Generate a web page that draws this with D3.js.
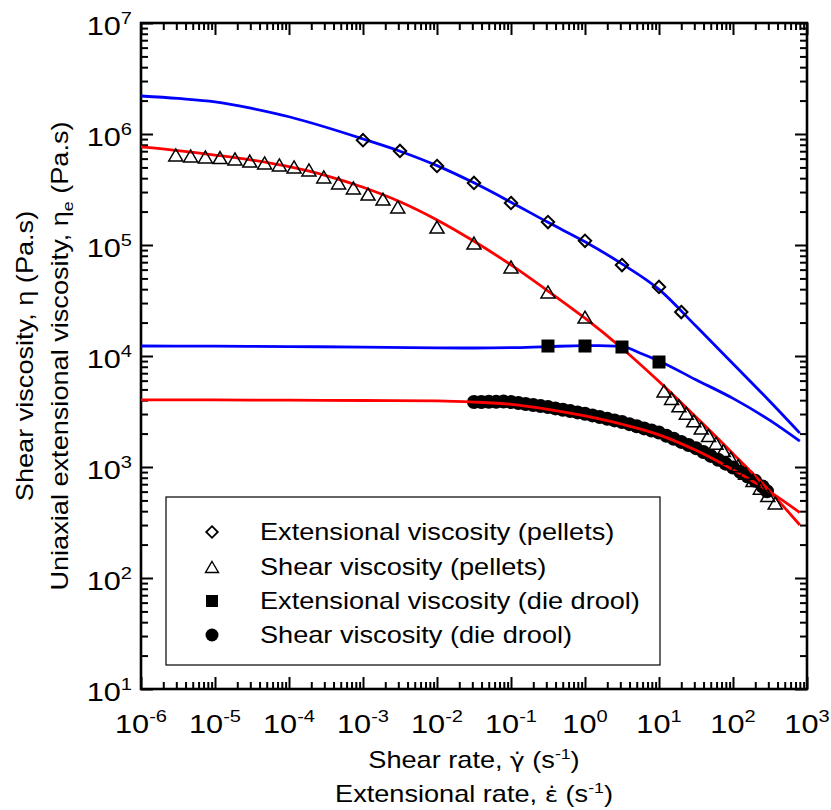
<!DOCTYPE html>
<html><head><meta charset="utf-8">
<script src="https://cdn.jsdelivr.net/npm/d3@7"></script>
<style>
body{margin:0;background:#fff}
text{font-family:"Liberation Sans",Arial,Helvetica,sans-serif;fill:#000}
</style>
</head><body>
<svg id="chart" width="831" height="810"></svg>
<script>
// ---------- data ----------
const xTickExps = [-6,-5,-4,-3,-2,-1,0,1,2,3];
const yTickExps = [1,2,3,4,5,6,7];

const legendLabels = ["Extensional viscosity (pellets)","Shear viscosity (pellets)",
                      "Extensional viscosity (die drool)","Shear viscosity (die drool)"];

// Extensional viscosity (pellets) – diamonds
const extPelletsRate = [0.001,0.00316,0.01,0.0316,0.1,0.316,1,3.16,10,20];
const extPelletsVisc = [8.8e5,7.03e5,5.15e5,3.62e5,2.39e5,1.61e5,1.09e5,6.6e4,4.19e4,2.49e4];

// Shear viscosity (pellets) – triangles
const shearPelletsRate = [2.95e-6,4.68e-6,7.41e-6,1.17e-5,1.86e-5,2.95e-5,4.68e-5,7.41e-5,1.17e-4,1.86e-4,
  2.95e-4,4.68e-4,7.41e-4,1.17e-3,1.86e-3,2.95e-3,0.01,0.0316,0.1,0.316,1,
  11.7,14.8,18.6,23.4,29.5,37.2,46.8,58.9,74.1,93.3,117,148,186,234,295,372];
const shearPelletsVisc = [6.47e5,6.34e5,6.21e5,6.14e5,5.96e5,5.71e5,5.48e5,5.26e5,5.05e5,4.74e5,
  4.10e5,3.62e5,3.27e5,2.88e5,2.59e5,2.20e5,1.45e5,1.04e5,6.34e4,3.78e4,2.24e4,
  4850,4150,3560,3050,2610,2240,1920,1640,1405,1200,1028,880,755,645,553,474];

// Extensional viscosity (die drool) – squares
const extDroolRate = [0.316,1,3.16,10];
const extDroolVisc = [12300,12300,12050,8830];

// Shear viscosity (die drool) – circles
const shearDroolRate = [0.0316,0.0398,0.0501,0.0631,0.0794,0.1,0.126,0.158,0.2,0.251,
  0.316,0.398,0.501,0.631,0.794,1,1.26,1.58,2.0,2.51,3.16,3.98,5.01,6.31,7.94,
  10,12.6,15.8,20,25.1,31.6,39.8,50.1,63.1,79.4,100,126,158,200,251,288];
const shearDroolVisc = [3846,3855,3864,3873,3882,3846,3767,3690,3614,3540,
  3467,3373,3281,3192,3105,3020,2917,2818,2723,2630,2541,2432,2328,2228,2133,
  2042,1914,1795,1683,1578,1479,1365,1259,1161,1072,989,902,822,750,668,605];

// Fitted model curves
const fitExtPelletsRate = [1e-6,3.16e-6,1e-5,3.16e-5,1e-4,3.16e-4,1e-3,3.16e-3,0.01,0.0316,0.1,0.316,1,3.16,10,31.6,100,316,800];
const fitExtPelletsVisc = [2.2e6,2.09e6,1.95e6,1.70e6,1.43e6,1.15e6,9.02e5,7.0e5,5.19e5,3.63e5,2.43e5,1.60e5,1.07e5,6.76e4,3.98e4,1.86e4,8510,3890,2020];

const fitShearPelletsRate = [1e-6,3.16e-6,1e-5,3.16e-5,1e-4,3.16e-4,1e-3,3.16e-3,0.01,0.0316,0.1,0.316,1,3.16,10,31.6,100,316,800];
const fitShearPelletsVisc = [7.64e5,7.08e5,6.46e5,5.82e5,5.07e5,4.22e5,3.31e5,2.45e5,1.68e5,1.08e5,6.61e4,3.85e4,2.19e4,1.175e4,5890,2820,1320,603,300];

const fitExtDroolRate = [1e-6,1e-5,1e-4,1e-3,0.01,0.0316,0.1,0.316,1,2,3.16,5.62,10,31.6,100,316,800];
const fitExtDroolVisc = [12300,12250,12160,12020,11860,11800,11890,12160,12390,12360,12190,10590,9020,6110,4150,2630,1710];

const fitShearDroolRate = [1e-6,1e-5,1e-4,1e-3,0.01,0.0316,0.1,0.316,1,3.16,10,31.6,100,316,800];
const fitShearDroolVisc = [4027,4018,3999,3972,3936,3846,3673,3311,2884,2427,1950,1413,944,596,389];

// ---------- layout ----------
const SX = 1.18; // horizontal text stretch
const svg = d3.select("#chart");
const L = 141, R = 807, T = 23, B = 689;
const x = d3.scaleLog().domain([1e-6, 1e3]).range([L, R]);
const y = d3.scaleLog().domain([1e1, 1e7]).range([B, T]);

function stext(parent, px, py, size, anchor, rotate) {
  const g = parent.append("g")
    .attr("transform", `translate(${px},${py})` + (rotate ? ` rotate(${rotate})` : "") + ` scale(${SX},1)`);
  return g.append("text").attr("text-anchor", anchor || "start").style("font-size", size + "px");
}

// ---------- axes (ticks inward on all four sides) ----------
const allX = x.ticks();
const allY = y.ticks();
const isMajor = v => Math.abs(Math.log10(v) - Math.round(Math.log10(v))) < 1e-6;
const majX = allX.filter(isMajor), minX = allX.filter(v => !isMajor(v));
const majY = allY.filter(isMajor), minY = allY.filter(v => !isMajor(v));

function addAxis(gen, pos, vals, size) {
  const g = svg.append("g").attr("transform", pos)
    .call(gen.tickValues(vals).tickSize(size).tickFormat(""));
  g.select(".domain").remove();
  g.selectAll(".tick line").attr("stroke", "#000").attr("stroke-width", 2);
}
addAxis(d3.axisBottom(x), `translate(0,${B})`, majX, -12);
addAxis(d3.axisBottom(x), `translate(0,${B})`, minX, -7);
addAxis(d3.axisTop(x), `translate(0,${T})`, majX, -12);
addAxis(d3.axisTop(x), `translate(0,${T})`, minX, -7);
addAxis(d3.axisLeft(y), `translate(${L},0)`, majY, -12);
addAxis(d3.axisLeft(y), `translate(${L},0)`, minY, -7);
addAxis(d3.axisRight(y), `translate(${R},0)`, majY, -12);
addAxis(d3.axisRight(y), `translate(${R},0)`, minY, -7);

svg.append("rect").attr("x", L).attr("y", T).attr("width", R - L).attr("height", B - T)
  .attr("fill", "none").attr("stroke", "#000").attr("stroke-width", 2.6);

// tick labels
xTickExps.forEach(e => {
  const t = stext(svg, x(Math.pow(10, e)), 733, 26, "middle");
  t.append("tspan").text("10");
  t.append("tspan").attr("dy", -11).style("font-size", "17px").text(String(e));
});
yTickExps.forEach(e => {
  const t = stext(svg, 132, y(Math.pow(10, e)) + 12, 26, "end");
  t.append("tspan").text("10");
  t.append("tspan").attr("dy", -11).style("font-size", "17px").text(String(e));
});

// axis titles (dotted symbols use a combining dot in a font that stacks it)
{
  const t1 = stext(svg, 474, 768, 23, "middle");
  t1.append("tspan").text("Shear rate, ");
  t1.append("tspan").style("font-family", "'DejaVu Sans'").style("font-size", "21px").text("\u03B3\u0307");
  t1.append("tspan").text(" (s");
  t1.append("tspan").attr("dy", -9).style("font-size", "15px").text("-1");
  t1.append("tspan").attr("dy", 9).text(")");
  const t2 = stext(svg, 474, 802, 23, "middle");
  t2.append("tspan").text("Extensional rate, ");
  t2.append("tspan").style("font-family", "'DejaVu Sans'").style("font-size", "21px").text("\u03B5\u0307");
  t2.append("tspan").text(" (s");
  t2.append("tspan").attr("dy", -9).style("font-size", "15px").text("-1");
  t2.append("tspan").attr("dy", 9).text(")");
  const t3 = stext(svg, 33, 356, 23, "middle", -90);
  t3.text("Shear viscosity, \u03B7 (Pa.s)");
  const t4 = stext(svg, 68, 356, 23, "middle", -90);
  t4.append("tspan").text("Uniaxial extensional viscosity, \u03B7");
  t4.append("tspan").attr("dy", 5).style("font-size", "15px").text("e");
  t4.append("tspan").attr("dy", -5).text(" (Pa.s)");
}

// ---------- marks ----------
const plot = svg.append("g");
const zip = (a, b) => a.map((v, i) => [v, b[i]]);

// circles (shear viscosity, die drool)
plot.selectAll("circle.sd").data(zip(shearDroolRate, shearDroolVisc)).join("circle")
  .attr("class", "sd").attr("cx", d => x(d[0])).attr("cy", d => y(d[1])).attr("r", 7).attr("fill", "#000");

// fit curves
const line = d3.line().x(d => x(d[0])).y(d => y(d[1])).curve(d3.curveMonotoneX);
[[fitExtPelletsRate, fitExtPelletsVisc, "#0000ff"],
 [fitExtDroolRate, fitExtDroolVisc, "#0000ff"],
 [fitShearPelletsRate, fitShearPelletsVisc, "#ff0000"],
 [fitShearDroolRate, fitShearDroolVisc, "#ff0000"]].forEach(([xs, ys, c]) => {
  plot.append("path").datum(zip(xs, ys)).attr("d", line)
    .attr("fill", "none").attr("stroke", c).attr("stroke-width", 2.8);
});

const diamondPath = r => `M0,${-r}L${r},0L0,${r}L${-r},0Z`;
const triPath = (w, h) => `M0,${-h / 2}L${w / 2},${h / 2}L${-w / 2},${h / 2}Z`;

plot.selectAll("path.dm").data(zip(extPelletsRate, extPelletsVisc)).join("path")
  .attr("class", "dm").attr("d", diamondPath(6.2))
  .attr("transform", d => `translate(${x(d[0])},${y(d[1])})`)
  .attr("fill", "none").attr("stroke", "#000").attr("stroke-width", 2);

plot.selectAll("path.tr").data(zip(shearPelletsRate, shearPelletsVisc)).join("path")
  .attr("class", "tr").attr("d", triPath(14, 12))
  .attr("transform", d => `translate(${x(d[0])},${y(d[1])})`)
  .attr("fill", "none").attr("stroke", "#000").attr("stroke-width", 1.5);

plot.selectAll("rect.sq").data(zip(extDroolRate, extDroolVisc)).join("rect")
  .attr("class", "sq").attr("x", d => x(d[0]) - 6.5).attr("y", d => y(d[1]) - 6.5)
  .attr("width", 13).attr("height", 13).attr("fill", "#000");

// ---------- legend ----------
const lg = svg.append("g");
lg.append("rect").attr("x", 166).attr("y", 497).attr("width", 494).attr("height", 168)
  .attr("fill", "#fff").attr("stroke", "#000").attr("stroke-width", 1.2);
const rowBase = [540, 575, 609, 643];
legendLabels.forEach((lab, i) => {
  const cy = rowBase[i] - 8, cx = 212;
  if (i === 0) lg.append("path").attr("d", diamondPath(5.8)).attr("transform", `translate(${cx},${cy})`)
    .attr("fill", "none").attr("stroke", "#000").attr("stroke-width", 1.8);
  if (i === 1) lg.append("path").attr("d", triPath(13, 11)).attr("transform", `translate(${cx},${cy})`)
    .attr("fill", "none").attr("stroke", "#000").attr("stroke-width", 1.4);
  if (i === 2) lg.append("rect").attr("x", cx - 6).attr("y", cy - 6).attr("width", 12).attr("height", 12).attr("fill", "#000");
  if (i === 3) lg.append("circle").attr("cx", cx).attr("cy", cy).attr("r", 6.5).attr("fill", "#000");
  stext(lg, 260, rowBase[i], 23, "start").text(lab);
});
</script>
</body></html>
